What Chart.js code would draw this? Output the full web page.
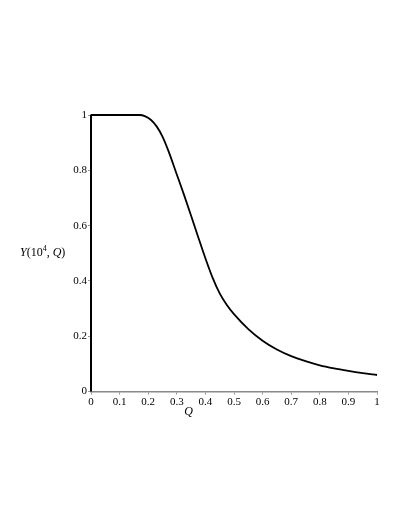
<!DOCTYPE html>
<html>
<head>
<meta charset="utf-8">
<script src="https://cdn.jsdelivr.net/npm/chart.js"></script>
<style>
  html, body { margin: 0; padding: 0; background: #fff; }
  #wrap { width: 409px; height: 529px; }
</style>
</head>
<body>
<div id="wrap"><canvas id="myChart" width="409" height="529"></canvas></div>
<script>
// values
var qValues = [0, 0.05, 0.1, 0.15, 0.17, 0.19, 0.21, 0.23, 0.25, 0.27, 0.3, 0.325, 0.35, 0.375, 0.4, 0.425, 0.45, 0.475, 0.5, 0.55, 0.6, 0.65, 0.7, 0.75, 0.8, 0.85, 0.9, 0.95, 1];
var yValues = [1, 1, 1, 1, 1, 0.995, 0.982, 0.958, 0.922, 0.872, 0.785, 0.712, 0.636, 0.558, 0.482, 0.412, 0.355, 0.313, 0.280, 0.226, 0.184, 0.152, 0.128, 0.110, 0.095, 0.084, 0.075, 0.067, 0.060];
// the curve starts from 0 at Q = 0 and jumps straight up
var startQ = [0, 0];
var startY = [0, 1];
var xTicks = [0, 0.1, 0.2, 0.3, 0.4, 0.5, 0.6, 0.7, 0.8, 0.9, 1];
var yTicks = [0, 0.2, 0.4, 0.6, 0.8, 1];

var serif = '"Liberation Serif", "DejaVu Serif", serif';

var curve = qValues.map(function(q, i) { return {x: q, y: yValues[i]}; });
var jump = startQ.map(function(q, i) { return {x: q, y: startY[i]}; });

// y label is horizontal, left of the axis: Y(10^4, Q)
var yLabelPlugin = {
  id: 'yLabel',
  afterDraw: function(chart) {
    var ctx = chart.ctx;
    var area = chart.chartArea;
    var x = 20;
    var y = (area.top + area.bottom) / 2 + 3;
    ctx.save();
    ctx.fillStyle = '#000';
    ctx.textBaseline = 'alphabetic';
    var parts = [
      {t: 'Y', f: 'italic 12px ' + serif, dy: 0},
      {t: '(10', f: '12px ' + serif, dy: 0},
      {t: '4', f: '8px ' + serif, dy: -5},
      {t: ', ', f: '12px ' + serif, dy: 0},
      {t: 'Q', f: 'italic 12px ' + serif, dy: 0},
      {t: ')', f: '12px ' + serif, dy: 0}
    ];
    parts.forEach(function(p) {
      ctx.font = p.f;
      ctx.fillText(p.t, x, y + p.dy);
      x += ctx.measureText(p.t).width;
    });
    ctx.restore();
  }
};

var config = {
  type: 'line',
  data: {
    datasets: [
      {
        data: jump,
        borderColor: '#000',
        borderWidth: 2,
        pointRadius: 0,
        tension: 0,
        clip: false
      },
      {
        data: curve,
        borderColor: '#000',
        borderWidth: 1.8,
        pointRadius: 0,
        cubicInterpolationMode: 'monotone',
        clip: false
      }
    ]
  },
  options: {
    responsive: false,
    animation: false,
    events: [],
    layout: { padding: { left: 0, right: 32, top: 115, bottom: 110 } },
    plugins: {
      legend: { display: false },
      tooltip: { enabled: false },
      title: { display: true, position: 'bottom', text: 'Q', color: '#000',
               font: { family: serif, size: 12, style: 'italic', weight: 'normal' },
               padding: { top: -4, bottom: 0 } }
    },
    scales: {
      x: {
        type: 'linear',
        min: 0, max: 1,
        afterBuildTicks: function(scale) { scale.ticks = xTicks.map(function(v) { return {value: v}; }); },
        afterFit: function(scale) { scale.height = 17; },
        grid: { drawOnChartArea: false, color: '#999', tickLength: 3 },
        border: { color: '#888', width: 1.5 },
        ticks: { color: '#000', font: { family: serif, size: 11 }, padding: 1, maxRotation: 0,
                 callback: function(v) { return String(v); } }
      },
      y: {
        min: 0, max: 1,
        afterBuildTicks: function(scale) { scale.ticks = yTicks.map(function(v) { return {value: v}; }); },
        afterFit: function(scale) { scale.width = 91; },
        grid: { drawOnChartArea: false, color: '#999', tickLength: 3 },
        border: { color: '#888', width: 1.5 },
        ticks: { color: '#000', font: { family: serif, size: 11 }, padding: 1,
                 callback: function(v) { return String(v); } }
      }
    }
  },
  plugins: [yLabelPlugin]
};

new Chart(document.getElementById('myChart'), config);
</script>
</body>
</html>
